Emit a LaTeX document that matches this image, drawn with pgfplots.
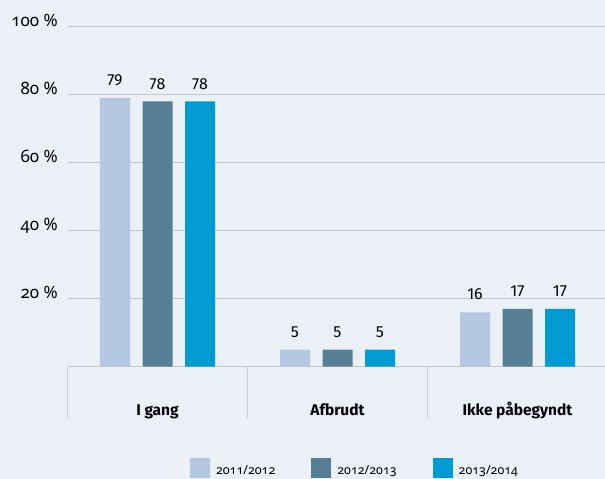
\documentclass[border=0pt]{standalone}
\usepackage{fontspec}
\setmainfont{Fira Sans}
\newfontfamily\lin{Fira Sans}[Numbers=Lining]
\newfontfamily\old{Noto Sans}[Numbers=OldStyle]
\usepackage{pgfplots}
\pgfplotsset{compat=1.18}
\definecolor{bg}{HTML}{EBF0F7}
\definecolor{gridc}{HTML}{C4C6C8}
\definecolor{sepc}{HTML}{CDD0D3}
\definecolor{cA}{HTML}{B3C7E1}
\definecolor{cB}{HTML}{567F96}
\definecolor{cC}{HTML}{009BD3}
\newcommand{\pct}[1]{\mbox{\old\fontsize{17}{20}\selectfont #1~\%}}
\begin{document}
\begin{tikzpicture}[x=1pt,y=1pt]
\fill[bg] (0,0) rectangle (605,479);
\useasboundingbox (0,0) rectangle (605,479);
\begin{axis}[
  at={(67.5pt,112.3pt)}, anchor=south west,
  scale only axis, width=540pt, height=340pt,
  xmin=-0.5, xmax=2.5, ymin=0, ymax=100,
  ybar=12.5pt, bar width=30pt,
  axis line style={draw=none},
  xtick={0,1,2},
  xticklabels={I gang, Afbrudt, Ikke påbegyndt},
  minor xtick={-0.5,0.5,1.5},
  ytick={0,20,...,100},
  yticklabels={,\pct{20},\pct{40},\pct{60},\pct{80},\pct{100}},
  tick pos=left, tick align=outside,
  major tick length=0pt, minor tick length=51pt,
  tick style={draw=sepc, line width=1.8pt},
  ymajorgrids,
  major grid style={draw=gridc, line width=1.6pt},
  xticklabel style={font=\fontsize{15.5}{18}\selectfont\bfseries, anchor=base, inner sep=0pt, yshift=-49pt},
  yticklabel style={anchor=base east, inner sep=0pt, xshift=-9.5pt},
  /pgf/number format/assume math mode=true,
  nodes near coords,
  nodes near coords style={font=\lin\fontsize{16}{19}\selectfont, inner sep=0pt, anchor=south, yshift=12pt, text=black},
  legend columns=3,
  legend style={draw=none, fill=none, inner sep=0pt, outer sep=0pt,
    at={(0.2269,-0.298)}, anchor=west,
    font=\old\fontsize{12.5}{15}\selectfont,
    nodes={inner sep=0pt},
    /tikz/every odd column/.append style={column sep=6pt},
    /tikz/every even column/.append style={column sep=36pt}},
  legend image code/.code={\fill[#1] (0pt,-7pt) rectangle (20pt,13pt);},
]
\addplot[fill=cA, draw=none] coordinates {(0,79) (1,5) (2,16)};
\addlegendentry{2011/2012}
\addplot[fill=cB, draw=none] coordinates {(0,78) (1,5) (2,17)};
\addlegendentry{2012/2013}
\addplot[fill=cC, draw=none] coordinates {(0,78) (1,5) (2,17)};
\addlegendentry{2013/2014}
\end{axis}
\end{tikzpicture}
\end{document}
